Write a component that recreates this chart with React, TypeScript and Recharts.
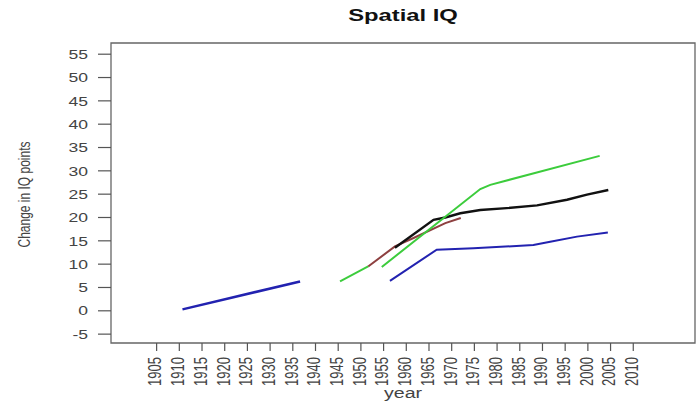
import { LineChart, Line, XAxis, YAxis, ReferenceArea } from 'recharts'

// values (year, change in IQ points)
const blueEarlyYears = [1910.7, 1936.6]
const blueEarlyValues = [0.3, 6.3]

const greenEarlyYears = [1945.4, 1951.6]
const greenEarlyValues = [6.3, 9.5]

const brownYears = [1951.6, 1957.5, 1961.6, 1968.6, 1972.0]
const brownValues = [9.5, 13.8, 15.6, 18.8, 19.9]

const blackYears = [1957.5, 1966.0, 1968.6, 1971.9, 1976.3, 1982.1, 1988.8, 1995.4, 1999.8, 2004.5]
const blackValues = [13.5, 19.5, 20.0, 20.9, 21.6, 22.0, 22.6, 23.8, 24.9, 25.9]

const greenLateYears = [1954.6, 1976.3, 1978.5, 2002.6]
const greenLateValues = [9.4, 26.1, 27.0, 33.2]

const blueLateYears = [1956.4, 1966.7, 1974.8, 1988.0, 1991.7, 1997.6, 2004.4]
const blueLateValues = [6.4, 13.1, 13.4, 14.1, 14.8, 15.9, 16.8]

const xTicks = [1905, 1910, 1915, 1920, 1925, 1930, 1935, 1940, 1945, 1950, 1955, 1960, 1965, 1970, 1975, 1980, 1985, 1990, 1995, 2000, 2005, 2010]
const yTicks = [-5, 0, 5, 10, 15, 20, 25, 30, 35, 40, 45, 50, 55]

const X_DOMAIN: [number, number] = [1894.95, 2023.6]
const Y_DOMAIN: [number, number] = [-6.9, 57.4]

const toRows = (years: number[], values: number[]) =>
  years.map((year, i) => ({ year, value: values[i] }))

const series = [
  { name: 'blueEarly', rows: toRows(blueEarlyYears, blueEarlyValues), color: '#2222b0', width: 2.5 },
  { name: 'brown', rows: toRows(brownYears, brownValues), color: '#8e4040', width: 2 },
  { name: 'black', rows: toRows(blackYears, blackValues), color: '#111111', width: 2.4 },
  { name: 'greenEarly', rows: toRows(greenEarlyYears, greenEarlyValues), color: '#3ccc3c', width: 2 },
  { name: 'greenLate', rows: toRows(greenLateYears, greenLateValues), color: '#3ccc3c', width: 2 },
  { name: 'blueLate', rows: toRows(blueLateYears, blueLateValues), color: '#2222b0', width: 2 },
]

const FONT = 'Liberation Sans, Arial, sans-serif'
const STRETCH = 1.35

function XTick({ x, y, payload }: { x?: number; y?: number; payload?: { value: number } }) {
  return (
    <g transform={`translate(${x},${y})`}>
      <text
        transform={`scale(${STRETCH},1) rotate(-90)`}
        x={0}
        y={3.6}
        textAnchor="end"
        fontSize={13}
        fontFamily={FONT}
        fill="#444"
      >
        {payload?.value}
      </text>
    </g>
  )
}

function YTick({ x, y, payload }: { x?: number; y?: number; payload?: { value: number } }) {
  return (
    <g transform={`translate(${x},${y})`}>
      <text
        transform={`scale(${STRETCH},1)`}
        x={0}
        y={0}
        dy="0.36em"
        textAnchor="end"
        fontSize={13}
        fontFamily={FONT}
        fill="#444"
      >
        {payload?.value}
      </text>
    </g>
  )
}

export default function App() {
  return (
    <div style={{ position: 'absolute', left: 0, top: 0, width: 696, height: 405, background: '#fff' }}>
      <LineChart width={696} height={405} margin={{ top: 43, right: 1, bottom: 0, left: 0 }}>
        <XAxis
          type="number"
          dataKey="year"
          domain={X_DOMAIN}
          ticks={xTicks}
          interval={0}
          allowDataOverflow
          height={62}
          axisLine={false}
          tickSize={8}
          tickMargin={6}
          tickLine={{ stroke: '#555', strokeWidth: 1.2 }}
          tick={<XTick />}
        />
        <YAxis
          type="number"
          dataKey="value"
          domain={Y_DOMAIN}
          ticks={yTicks}
          interval={0}
          allowDataOverflow
          width={111}
          axisLine={false}
          tickSize={13}
          tickMargin={10}
          tickLine={{ stroke: '#555', strokeWidth: 1.2 }}
          tick={<YTick />}
        />
        <ReferenceArea
          x1={X_DOMAIN[0]}
          x2={X_DOMAIN[1]}
          y1={Y_DOMAIN[0]}
          y2={Y_DOMAIN[1]}
          fill="none"
          stroke="#666"
          strokeWidth={1.3}
          ifOverflow="visible"
        />
        {series.map((s) => (
          <Line
            key={s.name}
            data={s.rows}
            dataKey="value"
            type="linear"
            stroke={s.color}
            strokeWidth={s.width}
            dot={false}
            activeDot={false}
            isAnimationActive={false}
          />
        ))}
      </LineChart>
      <svg width={696} height={405} style={{ position: 'absolute', left: 0, top: 0, pointerEvents: 'none' }}>
        <text
          transform={`translate(403,20.5) scale(1.4,1)`}
          textAnchor="middle"
          fontSize={17}
          fontWeight={700}
          fontFamily={FONT}
          fill="#111"
        >
          Spatial IQ
        </text>
        <text
          transform={`translate(403,398) scale(1.4,1)`}
          textAnchor="middle"
          fontSize={14}
          fontFamily={FONT}
          fill="#444"
        >
          year
        </text>
        <text
          transform={`translate(30,194.5) scale(1.3,1) rotate(-90)`}
          textAnchor="middle"
          fontSize={12}
          fontFamily={FONT}
          fill="#444"
        >
          Change in IQ points
        </text>
      </svg>
    </div>
  )
}
